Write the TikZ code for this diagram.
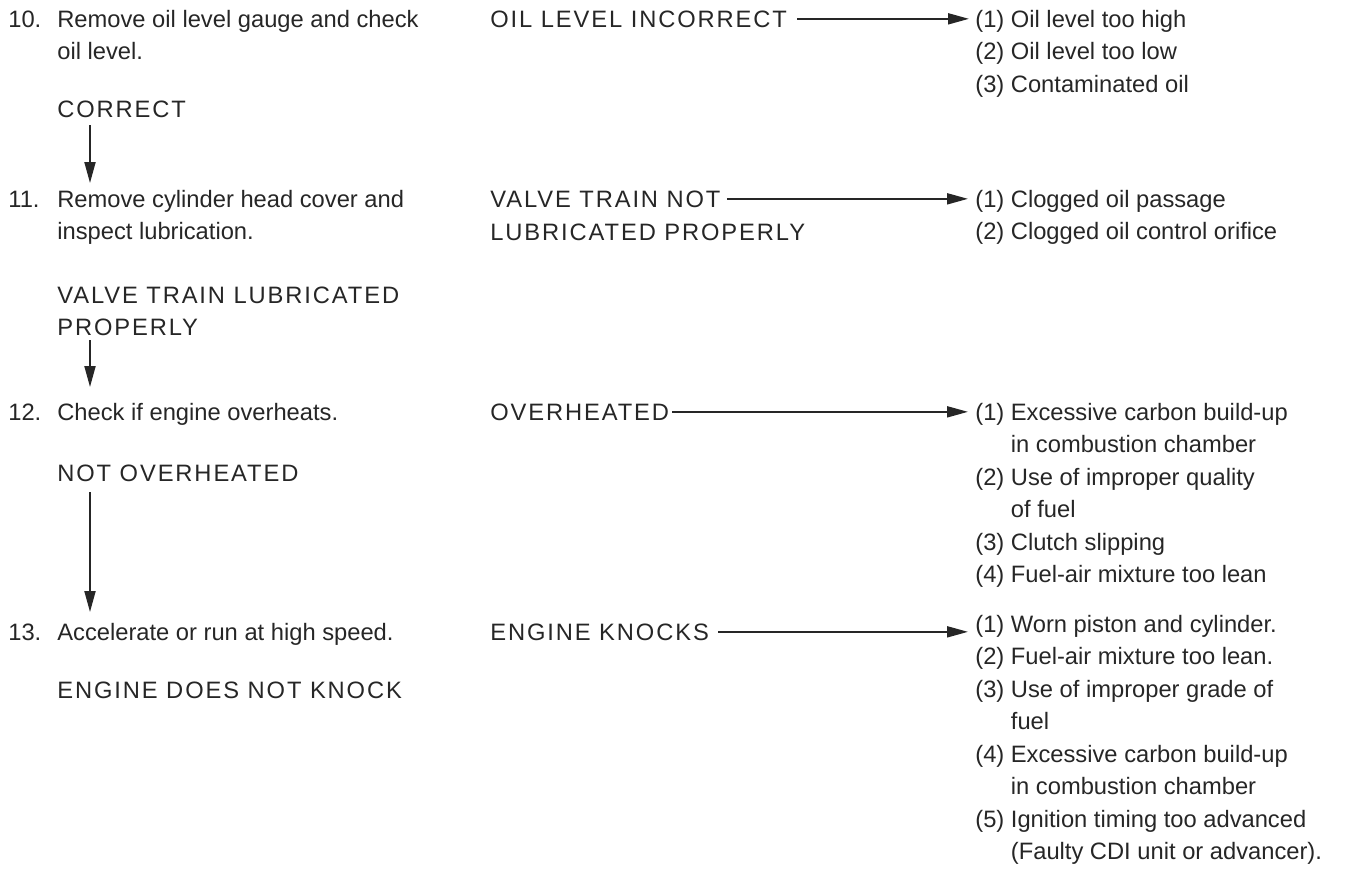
\documentclass[tikz,border=0pt]{standalone}
\usepackage{fontspec}
\setmainfont{Liberation Sans}
\newfontfamily\capsfont[LetterSpace=8]{Liberation Sans}
\usepackage{xcolor}
\usetikzlibrary{arrows.meta}
\definecolor{ink}{HTML}{262626}
\tikzstyle{txt}=[
inner sep=0pt,
anchor=base west,
text=ink,
font=\fontsize{13.5}{18.5}\selectfont
]
\tikzstyle{result}=[
txt,
font=\fontsize{13.5}{18.5}\selectfont\capsfont
]
\tikzstyle{arrow}=[
draw=ink,
line width=1.1pt,
-{Triangle[length=0.42cm,width=0.22cm]}
]
\newcommand{\steplines}[1]{\begin{tabular}[t]{@{}l@{}}#1\end{tabular}}
\newcommand{\causelist}[1]{\begin{tabular}[t]{@{}l@{ }l@{}}#1\end{tabular}}

\begin{document}
\begin{tikzpicture}[x=0.02cm,y=-0.02cm]

\useasboundingbox (0,0) rectangle (1347,870);

% checks and results
\node (n10) [txt] at (8,27) {10.};
\node (s10) [txt] at (57,27) {\steplines{Remove oil level gauge and check\\oil level.}};
\node (correct) [result] at (57,117) {CORRECT};
\node (n11) [txt] at (8,207) {11.};
\node (s11) [txt] at (57,207) {\steplines{Remove cylinder head cover and\\inspect lubrication.}};
\node (lubok) [result] at (57,303) {\steplines{VALVE TRAIN LUBRICATED\\PROPERLY}};
\node (n12) [txt] at (8,420) {12.};
\node (s12) [txt] at (57,420) {Check if engine overheats.};
\node (notover) [result] at (57,481) {NOT OVERHEATED};
\node (n13) [txt] at (8,640) {13.};
\node (s13) [txt] at (57,640) {Accelerate or run at high speed.};
\node (noknock) [result] at (57,698) {ENGINE DOES NOT KNOCK};

\draw [arrow] ([shift={(33,8)}]correct.base west) -- ([shift={(33,-24)}]s11.base west);
\draw [arrow] ([shift={(33,37)}]lubok.base west) -- ([shift={(33,-33)}]s12.base west);
\draw [arrow] ([shift={(33,11)}]notover.base west) -- ([shift={(33,-28)}]s13.base west);

% trouble found
\node (incorrect) [result] at (490,27) {OIL LEVEL INCORRECT};
\node (lubbad) [result] at (490,207) {VALVE TRAIN NOT};
\node (lubbadb) [result] at (490,240) {LUBRICATED PROPERLY};
\node (overheat) [result] at (490,420) {OVERHEATED};
\node (knock) [result] at (490,640) {ENGINE KNOCKS};

% possible causes
\node (causesa) [txt] at (975,27) {\causelist{
(1) & Oil level too high\\
(2) & Oil level too low\\
(3) & Contaminated oil}};
\node (causesb) [txt] at (975,207) {\causelist{
(1) & Clogged oil passage\\
(2) & Clogged oil control orifice}};
\node (causesc) [txt] at (975,420) {\causelist{
(1) & Excessive carbon build-up\\
 & in combustion chamber\\
(2) & Use of improper quality\\
 & of fuel\\
(3) & Clutch slipping\\
(4) & Fuel-air mixture too lean}};
\node (causesd) [txt] at (975,632) {\causelist{
(1) & Worn piston and cylinder.\\
(2) & Fuel-air mixture too lean.\\
(3) & Use of improper grade of\\
 & fuel\\
(4) & Excessive carbon build-up\\
 & in combustion chamber\\
(5) & Ignition timing too advanced\\
 & (Faulty CDI unit or advancer).}};

\draw [arrow, shorten <=0.2cm, shorten >=0.12cm] (incorrect.east) -- (incorrect.east -| causesa.west);
\draw [arrow, shorten <=0.12cm, shorten >=0.14cm] (lubbad.east) -- (lubbad.east -| causesb.west);
\draw [arrow, shorten <=0.06cm, shorten >=0.14cm] (overheat.east) -- (overheat.east -| causesc.west);
\draw [arrow, shorten <=0.18cm, shorten >=0.14cm] (knock.east) -- (knock.east -| causesd.west);

\end{tikzpicture}
\end{document}
